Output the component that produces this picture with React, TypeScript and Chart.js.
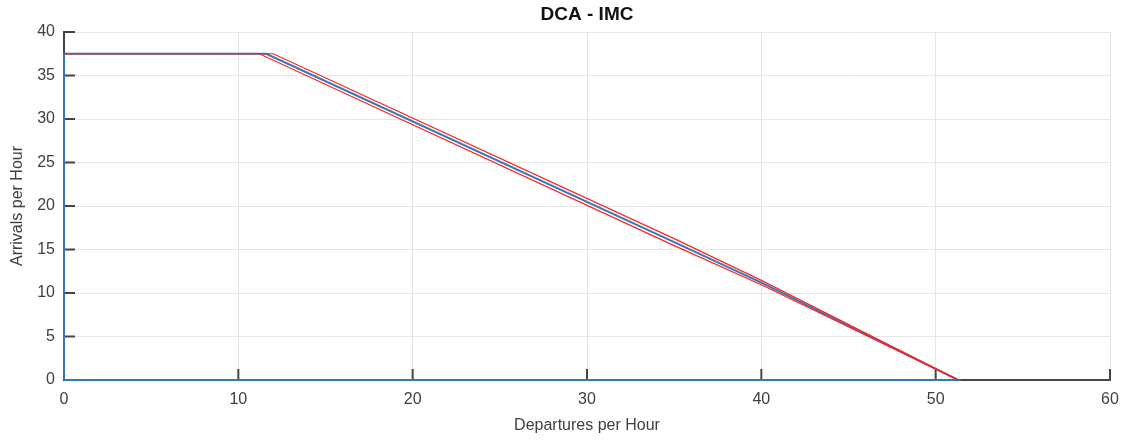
import { useEffect, useRef } from 'react';
import { Chart, registerables } from 'chart.js';
Chart.register(...registerables);

const TITLE = 'DCA - IMC';
const xTicks = [0, 10, 20, 30, 40, 50, 60];
const yTicks = [0, 5, 10, 15, 20, 25, 30, 35, 40];

const blueX = [0, 0, 11.6, 35, 40, 51.3, 0];
const blueY = [0, 37.5, 37.5, 15.85, 11.2, 0, 0];
const redUpperX = [0, 12.0, 35, 40, 51.3];
const redUpperY = [37.5, 37.5, 16.25, 11.45, 0];
const redLowerX = [0, 11.2, 35, 40, 51.3];
const redLowerY = [37.5, 37.5, 15.45, 10.95, 0];

const toPts = (xs: number[], ys: number[]) => xs.map((x, i) => ({ x, y: ys[i] }));

const FONT = "'Liberation Sans', Arial, Helvetica, sans-serif";
const AXIS = '#454545';

const innerTicks = {
  id: 'innerTicks',
  beforeDatasetsDraw(chart: any) {
    const { ctx, chartArea, scales } = chart;
    const len = 11;
    ctx.save();
    ctx.strokeStyle = AXIS;
    ctx.lineWidth = 2;
    xTicks.forEach((v) => {
      const px = scales.x.getPixelForValue(v);
      ctx.beginPath();
      ctx.moveTo(px, chartArea.bottom);
      ctx.lineTo(px, chartArea.bottom - len);
      ctx.stroke();
    });
    yTicks.forEach((v) => {
      const py = scales.y.getPixelForValue(v);
      ctx.beginPath();
      ctx.moveTo(chartArea.left, py);
      ctx.lineTo(chartArea.left + len, py);
      ctx.stroke();
    });
    ctx.restore();
  },
  afterDraw(chart: any) {
    const { ctx, chartArea } = chart;
    ctx.save();
    ctx.fillStyle = '#111';
    ctx.font = `bold 19px ${FONT}`;
    ctx.textAlign = 'center';
    ctx.textBaseline = 'middle';
    ctx.fillText(TITLE, (chartArea.left + chartArea.right) / 2, 15);
    ctx.restore();
  },
};

export default function App() {
  const ref = useRef<HTMLCanvasElement>(null);
  useEffect(() => {
    if (!ref.current) return;
    const chart = new Chart(ref.current, {
      type: 'scatter',
      data: {
        datasets: [
          {
            data: toPts(redUpperX, redUpperY),
            showLine: true,
            borderColor: '#ff2020',
            borderWidth: 1.2,
            pointRadius: 0,
            clip: false as any,
          },
          {
            data: toPts(redLowerX, redLowerY),
            showLine: true,
            borderColor: '#ff2020',
            borderWidth: 1.2,
            pointRadius: 0,
            clip: false as any,
          },
          {
            data: toPts(blueX, blueY),
            showLine: true,
            borderColor: '#3577b8',
            borderWidth: 2,
            pointRadius: 0,
            clip: false as any,
          },
        ],
      },
      options: {
        animation: false,
        responsive: false,
        events: [],
        layout: { padding: { left: 0, right: 17, top: 32, bottom: 0 } },
        plugins: {
          legend: { display: false },
          tooltip: { enabled: false },
          title: { display: false },
        },
        scales: {
          x: {
            type: 'linear',
            min: 0,
            max: 60,
            afterBuildTicks: (s: any) => {
              s.ticks = xTicks.map((v) => ({ value: v }));
            },
            afterFit: (s: any) => {
              s.height = 60;
              s.paddingRight = 0;
              s.paddingLeft = 0;
            },
            ticks: { color: '#404040', font: { family: FONT, size: 16 }, padding: 10, maxRotation: 0 },
            grid: { color: '#e6e6e6', lineWidth: 1, drawTicks: false, tickLength: 0 },
            border: { display: true, color: AXIS, width: 2 },
            title: {
              display: true,
              text: 'Departures per Hour',
              color: '#404040',
              font: { family: FONT, size: 16 },
              padding: { top: 0, bottom: 5 },
            },
          },
          y: {
            type: 'linear',
            min: 0,
            max: 40,
            afterBuildTicks: (s: any) => {
              s.ticks = yTicks.map((v) => ({ value: v }));
            },
            afterFit: (s: any) => {
              s.width = 64;
            },
            ticks: { color: '#404040', font: { family: FONT, size: 16 }, padding: 9 },
            grid: { color: '#e6e6e6', lineWidth: 1, drawTicks: false, tickLength: 0 },
            border: { display: true, color: AXIS, width: 2 },
            title: {
              display: true,
              text: 'Arrivals per Hour',
              color: '#404040',
              font: { family: FONT, size: 16 },
              padding: { top: 8, bottom: 0 },
            },
          },
        },
      },
      plugins: [innerTicks],
    });
    return () => chart.destroy();
  }, []);
  return (
    <div style={{ position: 'absolute', left: 0, top: 0, width: 1127, height: 440, background: '#fff' }}>
      <canvas ref={ref} width={1127} height={440} />
    </div>
  );
}
